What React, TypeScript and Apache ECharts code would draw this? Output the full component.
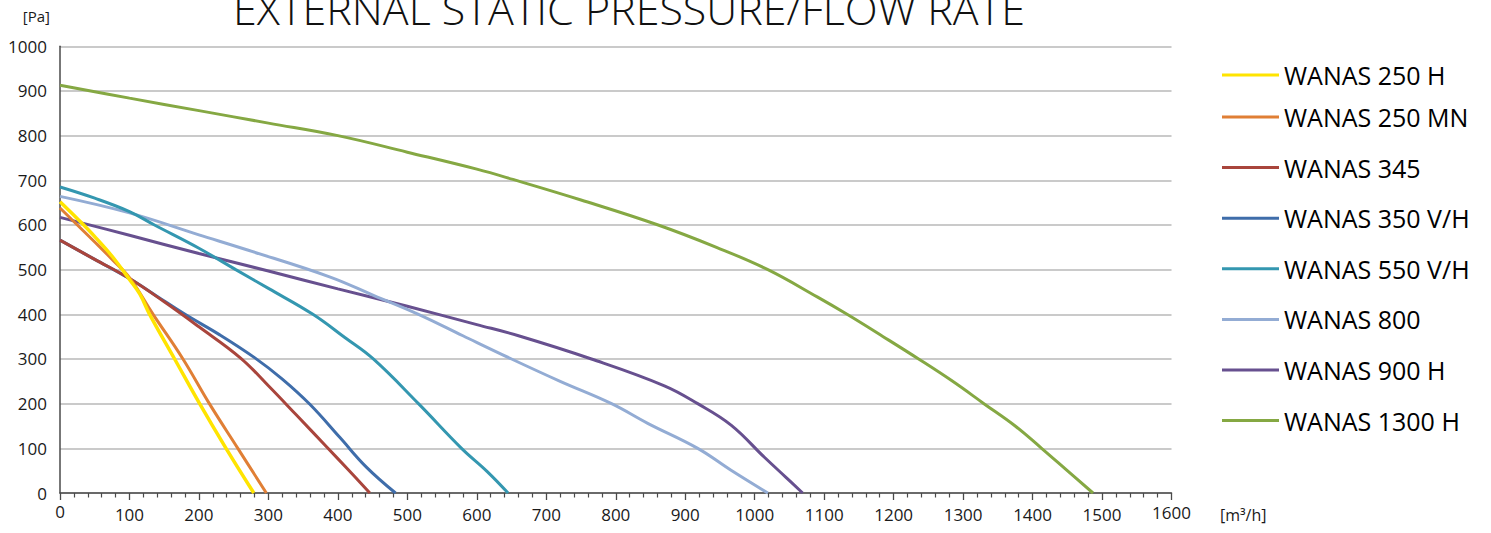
import React, { useEffect, useRef } from "react";
import * as echarts from "echarts";

const titleText = "EXTERNAL STATIC PRESSURE/FLOW RATE";
const yUnit = "[Pa]";
const xUnit = "[m³/h]";

const seriesNames = [
  "WANAS 250 H",
  "WANAS 250 MN",
  "WANAS 345",
  "WANAS 350 V/H",
  "WANAS 550 V/H",
  "WANAS 800",
  "WANAS 900 H",
  "WANAS 1300 H",
];

const seriesColors = [
  "#FFE400",
  "#E07F35",
  "#A9453C",
  "#3F6DAA",
  "#3497B0",
  "#93ACD4",
  "#67508F",
  "#85A843",
];

const wanas250H = [[0, 652], [25, 614], [50, 574], [75, 530], [100, 478], [115, 445], [129, 400], [165, 300], [201, 200], [239, 100], [279, 0]];
const wanas250MN = [[0, 638], [25, 600], [50, 562], [75, 523], [100, 482], [134, 400], [177, 300], [215, 200], [256, 100], [297, 0]];
const wanas345 = [[0, 566], [50, 523], [100, 480], [150, 428], [200, 372], [260, 302], [300, 240], [340, 175], [384, 103], [415, 52], [446, 0]];
const wanas350VH = [[0, 566], [50, 523], [100, 480], [140, 440], [180, 400], [230, 354], [280, 303], [320, 255], [360, 198], [403, 124], [441, 58], [483, 0]];
const wanas550VH = [[0, 685], [50, 660], [100, 630], [136, 600], [200, 548], [253, 500], [300, 458], [364, 400], [410, 348], [451, 300], [516, 200], [578, 100], [615, 48], [645, 0]];
const wanas800 = [[0, 664], [100, 627], [200, 578], [270, 544], [388, 484], [452, 442], [516, 400], [580, 352], [650, 300], [720, 250], [794, 200], [846, 156], [918, 100], [966, 51], [1019, 0]];
const wanas900H = [[0, 617], [100, 577], [200, 536], [300, 497], [400, 457], [500, 418], [600, 377], [660, 352], [765, 300], [870, 240], [918, 200], [966, 152], [1014, 80], [1045, 35], [1069, 0]];
const wanas1300H = [[0, 913], [100, 884], [200, 856], [300, 828], [400, 800], [500, 763], [600, 725], [652, 702], [750, 656], [861, 600], [945, 550], [1019, 500], [1090, 439], [1133, 400], [1185, 350], [1236, 300], [1285, 250], [1330, 200], [1375, 150], [1413, 100], [1450, 50], [1487, 0]];

const seriesData = [wanas250H, wanas250MN, wanas345, wanas350VH, wanas550VH, wanas800, wanas900H, wanas1300H];

const xMin = 0;
const xMax = 1600;
const xInterval = 100;
const yMin = 0;
const yMax = 1000;
const yInterval = 100;

export default function App() {
  const ref = useRef<HTMLDivElement>(null);

  useEffect(() => {
    if (!ref.current) return;
    const chart = echarts.init(ref.current, null, { renderer: "svg" });
    const font = "'Open Sans', 'Noto Sans', sans-serif";

    const legendBase = {
      orient: "vertical",
      left: 1222,
      padding: 0,
      icon: "rect",
      itemWidth: 57,
      itemHeight: 3,
      itemGap: 20.6,
      textStyle: { fontFamily: font, fontSize: 25, color: "#000", lineHeight: 30 },
    };

    const option: any = {
      animation: false,
      backgroundColor: "#ffffff",
      grid: { left: 60, right: 319.5, top: 46.3, bottom: 40 },
      xAxis: {
        type: "value",
        min: xMin,
        max: xMax,
        interval: xInterval,
        axisLine: { show: true, lineStyle: { color: "#4a4a4a", width: 1.5 } },
        axisTick: { show: true, length: 7, lineStyle: { color: "#4a4a4a", width: 1.3 } },
        minorTick: { show: true, splitNumber: 5, length: 4.5, lineStyle: { color: "#4a4a4a", width: 1.2 } },
        splitLine: { show: false },
        axisLabel: {
          margin: 8,
          color: "#1a1a1a",
          fontFamily: font,
          fontSize: 17,
          formatter: (v: number) => {
            if (v === 0) return "{z|0}";
            if (v === xMax) return "{e|" + v + "}";
            return "{n|" + v + "}";
          },
          rich: {
            n: { fontFamily: font, fontSize: 17, lineHeight: 20, padding: [7, 0, 0, 0], color: "#1a1a1a" },
            z: { fontFamily: font, fontSize: 17, lineHeight: 20, padding: [0, 0, 0, 0], color: "#1a1a1a" },
            e: { fontFamily: font, fontSize: 17, lineHeight: 20, padding: [2, 0, 0, 0], color: "#1a1a1a" },
          },
        },
      },
      yAxis: {
        type: "value",
        min: yMin,
        max: yMax,
        interval: yInterval,
        axisLine: { show: true, lineStyle: { color: "#4a4a4a", width: 1.5 } },
        axisTick: { show: false },
        splitLine: { show: true, lineStyle: { color: "#B8B8B8", width: 1.6 } },
        axisLabel: {
          margin: 13,
          color: "#1a1a1a",
          fontFamily: font,
          fontSize: 17,
          formatter: (v: number) => String(v),
        },
      },
      legend: [
        { ...legendBase, data: [seriesNames[0]], top: 60 },
        { ...legendBase, data: seriesNames.slice(1), top: 102 },
      ],
      graphic: [
        {
          type: "text",
          x: 629,
          y: 8,
          style: {
            text: titleText,
            fontFamily: font,
            fontWeight: 300,
            fontSize: 43,
            fill: "#111",
            align: "center",
            verticalAlign: "middle",
          },
        },
        {
          type: "text",
          x: 50,
          y: 16,
          style: {
            text: yUnit,
            fontFamily: font,
            fontSize: 15,
            fill: "#1a1a1a",
            align: "right",
            verticalAlign: "middle",
          },
        },
        {
          type: "text",
          x: 1220,
          y: 515,
          style: {
            text: xUnit,
            fontFamily: font,
            fontSize: 16,
            fill: "#1a1a1a",
            align: "left",
            verticalAlign: "middle",
          },
        },
      ],
      series: seriesNames.map((name, i) => ({
        name,
        type: "line",
        data: seriesData[i],
        smooth: 0.4,
        showSymbol: false,
        symbol: "none",
        lineStyle: { color: seriesColors[i], width: i === 0 ? 3.5 : 3 },
        itemStyle: { color: seriesColors[i] },
        z: 10 - i,
      })),
    };

    chart.setOption(option);
    return () => chart.dispose();
  }, []);

  return (
    <div
      ref={ref}
      style={{ position: "fixed", left: 0, top: 0, width: 1491, height: 533 }}
    />
  );
}
